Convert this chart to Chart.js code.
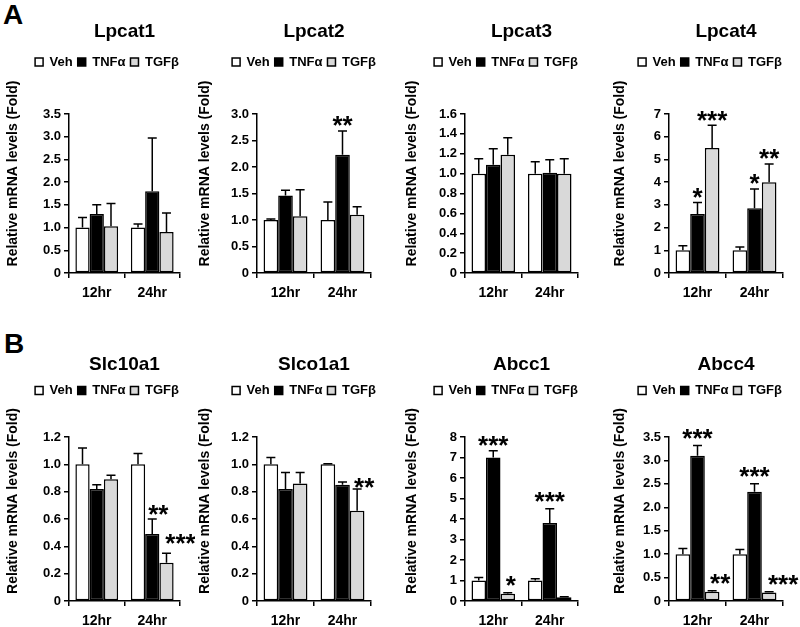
<!DOCTYPE html>
<html><head><meta charset="utf-8">
<script src="https://cdn.jsdelivr.net/npm/chart.js@4.4.1/dist/chart.umd.min.js"></script>
<style>
html,body{margin:0;padding:0;background:#fff;}
body{width:800px;height:627px;overflow:hidden;position:relative;font-family:'Liberation Sans',Arial,sans-serif;}
canvas{position:absolute;}
.panel-letter{position:absolute;font-weight:bold;font-size:28px;line-height:1;color:#000;}
</style></head><body>
<div class="panel-letter" style="left:3px;top:1px">A</div>
<div class="panel-letter" style="left:4px;top:330px">B</div>
<script>
// ---------- data ----------
const categories = ['12hr', '24hr'];
const seriesNames = ['Veh', 'TNFα', 'TGFβ'];
const geneNames = ['Lpcat1', 'Lpcat2', 'Lpcat3', 'Lpcat4', 'Slc10a1', 'Slco1a1', 'Abcc1', 'Abcc4'];
const yAxisTitle = 'Relative mRNA levels (Fold)';

// each: [Veh, TNFα, TGFβ], each series = [12hr, 24hr]
const lpcat1Means  = [[1.00, 1.00], [1.30, 1.80], [1.03, 0.90]];
const lpcat1Errors = [[0.22, 0.08], [0.20, 1.17], [0.50, 0.42]];
const lpcat1Stars  = [['', ''], ['', ''], ['', '']];

const lpcat2Means  = [[1.00, 1.00], [1.46, 2.23], [1.07, 1.10]];
const lpcat2Errors = [[0.02, 0.34], [0.10, 0.45], [0.50, 0.15]];
const lpcat2Stars  = [['', ''], ['', '**'], ['', '']];

const lpcat3Means  = [[1.00, 1.00], [1.09, 1.01], [1.19, 1.00]];
const lpcat3Errors = [[0.15, 0.12], [0.16, 0.13], [0.17, 0.15]];
const lpcat3Stars  = [['', ''], ['', ''], ['', '']];

const lpcat4Means  = [[1.00, 1.00], [2.60, 2.85], [5.50, 4.00]];
const lpcat4Errors = [[0.20, 0.15], [0.50, 0.85], [1.00, 0.80]];
const lpcat4Stars  = [['', ''], ['*', '*'], ['***', '**']];

const slc10a1Means  = [[1.00, 1.00], [0.82, 0.49], [0.89, 0.28]];
const slc10a1Errors = [[0.12, 0.08], [0.03, 0.11], [0.03, 0.07]];
const slc10a1Stars  = [['', ''], ['', '**'], ['', '***']];

const slco1a1Means  = [[1.00, 1.00], [0.82, 0.85], [0.86, 0.66]];
const slco1a1Errors = [[0.05, 0.005], [0.12, 0.02], [0.08, 0.16]];
const slco1a1Stars  = [['', ''], ['', ''], ['', '**']];

const abcc1Means  = [[1.00, 1.00], [7.00, 3.80], [0.35, 0.18]];
const abcc1Errors = [[0.15, 0.08], [0.33, 0.70], [0.05, 0.03]];
const abcc1Stars  = [['', ''], ['***', '***'], ['*', '']];

const abcc4Means  = [[1.00, 1.00], [3.10, 2.33], [0.20, 0.18]];
const abcc4Errors = [[0.12, 0.10], [0.22, 0.17], [0.02, 0.02]];
const abcc4Stars  = [['', ''], ['***', '***'], ['**', '***']];

const yMaxes = [3.5, 3.0, 1.6, 7, 1.2, 1.2, 8, 3.5];
const ySteps = [0.5, 0.5, 0.2, 1, 0.2, 0.2, 1, 0.5];

// ---------- layout / style ----------
const FONT = "'Liberation Sans', Arial, sans-serif";
Chart.defaults.font.family = FONT;
Chart.defaults.color = '#000';

const seriesFill = ['#ffffff', '#000000', '#d9d9d9'];
const canvasLefts = [5, 197, 404, 612];
const axisWidths = [64, 60, 61, 57];
const plotRights = [180, 371, 578, 783];
const canvasWidths = [190, 200, 198, 188];
const legendCenters = [107, 304, 506, 710];
const rowLayouts = [
  {top: 0, height: 305, titleTop: 20, titleBottom: 7.7, legendExtra: 35.5, yTitleDy: 20},
  {top: 320, height: 313, titleTop: 33.6, titleBottom: 2.6, legendExtra: 30, yTitleDy: 18}
];
// star label offsets [dx, dy] per panel/series/category (default centre 10px above error bar)
const zeroOff = [[[0,0],[0,0]],[[0,0],[0,0]],[[0,0],[0,0]]];
const starOffsets = [
  zeroOff, zeroOff, zeroOff, zeroOff,
  [[[0,0],[0,0]],[[0,0],[6,0]],[[0,0],[14,-5]]],
  [[[0,0],[0,0]],[[0,0],[0,0]],[[0,0],[7,4]]],
  [[[0,0],[0,0]],[[0,0],[0,-2]],[[3,-2],[0,0]]],
  [[[0,0],[0,0]],[[0,-2],[0,-2]],[[8,-2],[14,-2]]]
];

const panelData = [
  [lpcat1Means, lpcat1Errors, lpcat1Stars],
  [lpcat2Means, lpcat2Errors, lpcat2Stars],
  [lpcat3Means, lpcat3Errors, lpcat3Stars],
  [lpcat4Means, lpcat4Errors, lpcat4Stars],
  [slc10a1Means, slc10a1Errors, slc10a1Stars],
  [slco1a1Means, slco1a1Errors, slco1a1Stars],
  [abcc1Means, abcc1Errors, abcc1Stars],
  [abcc4Means, abcc4Errors, abcc4Stars]
];

function makePanel(p) {
  const col = p % 4, row = Math.floor(p / 4);
  const rl = rowLayouts[row];
  const [means, errors, stars] = panelData[p];
  const cLeft = canvasLefts[col];
  const cWidth = canvasWidths[col];
  const padRight = cWidth - (plotRights[col] - cLeft);
  const legendCenter = legendCenters[col] - cLeft;

  const canvas = document.createElement('canvas');
  canvas.width = cWidth; canvas.height = rl.height;
  canvas.style.left = cLeft + 'px'; canvas.style.top = rl.top + 'px';
  canvas.style.width = cWidth + 'px'; canvas.style.height = rl.height + 'px';
  document.body.appendChild(canvas);

  const extras = {
    id: 'panelExtras',
    beforeInit(chart) {
      const legend = chart.legend;
      const fit = legend.fit;
      legend.fit = function () { fit.call(this); this.height += rl.legendExtra; };
    },
    afterLayout(chart) {
      const L = chart.legend;
      const dx = legendCenter - (L.left + L.right) / 2;
      L.left += dx; L.right += dx;
      const ys = chart.scales.y;
      if (!ys._titlePatched) {
        const orig = ys.drawTitle;
        ys.drawTitle = function () {
          const t = this.top, b = this.bottom;
          this.top -= rl.yTitleDy; this.bottom -= rl.yTitleDy;
          orig.call(this);
          this.top = t; this.bottom = b;
        };
        ys._titlePatched = true;
      }
    },
    afterDatasetsDraw(chart) {
      const ctx = chart.ctx;
      const yScale = chart.scales.y;
      ctx.save();
      ctx.strokeStyle = '#000';
      ctx.lineWidth = 1.5;
      for (let s = 0; s < means.length; s++) {
        const meta = chart.getDatasetMeta(s);
        for (let c = 0; c < categories.length; c++) {
          const bar = meta.data[c];
          const topY = yScale.getPixelForValue(means[s][c] + errors[s][c]);
          ctx.beginPath();
          ctx.moveTo(bar.x, bar.y);
          ctx.lineTo(bar.x, topY);
          ctx.moveTo(bar.x - 4.5, topY);
          ctx.lineTo(bar.x + 4.5, topY);
          ctx.stroke();
        }
      }
      ctx.font = 'bold 26px ' + FONT;
      ctx.textAlign = 'center';
      ctx.textBaseline = 'alphabetic';
      ctx.fillStyle = '#000';
      for (let s = 0; s < stars.length; s++) {
        const meta = chart.getDatasetMeta(s);
        for (let c = 0; c < categories.length; c++) {
          const txt = stars[s][c];
          if (!txt) continue;
          const bar = meta.data[c];
          const off = starOffsets[p][s][c];
          const topY = yScale.getPixelForValue(means[s][c] + errors[s][c]);
          const cy = topY - 10 + off[1];
          ctx.fillText(txt, bar.x + off[0], cy + 13.5);
        }
      }
      ctx.restore();
    }
  };

  const decimals = ySteps[p] < 1 ? 1 : 0;
  new Chart(canvas, {
    type: 'bar',
    data: {
      labels: categories,
      datasets: seriesNames.map((name, s) => ({
        label: name,
        data: means[s],
        backgroundColor: seriesFill[s],
        borderColor: '#000',
        borderWidth: 1.5,
        borderSkipped: false,
        barPercentage: 1.0,
        categoryPercentage: 0.77
      }))
    },
    options: {
      responsive: false,
      animation: false,
      devicePixelRatio: 1,
      layout: {padding: {left: 0, right: padRight, top: 0, bottom: 0}},
      plugins: {
        title: {
          display: true, text: geneNames[p], color: '#000', fullSize: false,
          font: {size: 19, weight: 'bold'},
          padding: {top: rl.titleTop, bottom: rl.titleBottom}
        },
        legend: {
          display: true, position: 'top',
          labels: {
            boxWidth: 8, boxHeight: 8, padding: 5, color: '#000',
            font: {size: 13, weight: 'bold'}
          }
        },
        tooltip: {enabled: false}
      },
      scales: {
        x: {
          type: 'category',
          offset: true,
          grid: {offset: true, drawOnChartArea: false, drawTicks: true, tickLength: 5, color: '#000', lineWidth: 1.5},
          border: {display: true, color: '#000', width: 1.5},
          ticks: {color: '#000', padding: 7, maxRotation: 0, font: {size: 14, weight: 'bold'}},
          afterFit: (s) => { s.height = 32; }
        },
        y: {
          min: 0, max: yMaxes[p],
          ticks: {
            stepSize: ySteps[p], color: '#000', padding: 3,
            font: {size: 13, weight: 'bold'},
            callback: (v) => (v === 0 ? '0' : Number(v).toFixed(decimals))
          },
          grid: {drawOnChartArea: false, drawTicks: true, tickLength: 5, color: '#000', lineWidth: 1.5},
          border: {display: true, color: '#000', width: 1.5},
          title: {display: true, text: yAxisTitle, color: '#000', font: {size: 14, weight: 'bold'}, padding: {top: 0, bottom: 0}},
          afterFit: (s) => { s.width = axisWidths[col]; }
        }
      }
    },
    plugins: [extras]
  });
}

for (let p = 0; p < 8; p++) makePanel(p);
</script>
</body></html>
